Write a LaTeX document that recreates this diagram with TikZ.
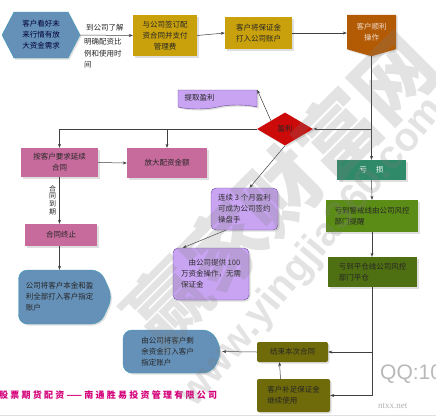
\documentclass[tikz,border=0pt]{standalone}
\usepackage{fontspec}
\setmainfont{Noto Sans CJK SC}
\newfontfamily\latinsans{Liberation Sans}
\newfontfamily\latinserif{Liberation Serif}
\usetikzlibrary{shapes.geometric,shapes.symbols,shadows,arrows.meta,calc}
\definecolor{hexblue}{HTML}{6590B8}
\definecolor{hexedge}{HTML}{3A9CB8}
\definecolor{gold}{HTML}{C9A10C}
\definecolor{brownc}{HTML}{B35A05}
\definecolor{redc}{HTML}{CC0A0A}
\definecolor{lav}{HTML}{C9A4F2}
\definecolor{lavedge}{HTML}{6A4A9A}
\definecolor{pinkc}{HTML}{C66B9C}
\definecolor{tealc}{HTML}{2F8A6A}
\definecolor{greena}{HTML}{5B8C16}
\definecolor{greenb}{HTML}{4F7012}
\definecolor{olivec}{HTML}{6F6A0A}
\definecolor{magc}{HTML}{D4007A}
\begin{document}
\begin{tikzpicture}[x=1pt,y=-1pt,
  box/.style={inner sep=1pt, font=\fontsize{7.5}{11}\selectfont, text=black!85,
    drop shadow={opacity=0.25,shadow xshift=1.5pt,shadow yshift=-1.5pt}},
  arr/.style={-{Stealth[length=4pt,width=3pt]}, draw=black!75, line width=0.5pt},
  lbl/.style={inner sep=0pt, font=\fontsize{7.5}{11.5}\selectfont, text=black!85}]
\useasboundingbox (0,0) rectangle (436,418);
\clip (0,0) rectangle (436,418);
\fill[white] (0,0) rectangle (436,418);

% nodes
\node[box, signal, signal to=west and east, signal pointer angle=125, fill=hexblue, draw=hexedge,
  text=black!80!blue, minimum width=78pt, minimum height=46pt, align=center] (hex) at (41,35) {客户看好未\\来行情有放\\大资金需求};
\node[box, fill=gold, minimum width=64pt, minimum height=41pt, align=center] (sign) at (165,35.5) {与公司签订配\\资合同并支付\\管理费};
\node[box, fill=gold, minimum width=67pt, minimum height=32pt, align=center] (pay) at (258.5,33) {客户将保证金\\打入公司账户};
\node[box, signal, signal to=south, signal pointer angle=148, fill=brownc, text=white!80!brownc,
  minimum width=49pt, minimum height=39pt, align=center] (ok) at (371.5,32) {客户顺利\\操作};
\node[box, diamond, aspect=1.7, fill=redc, minimum width=56pt, minimum height=33pt, inner sep=0pt] (win) at (285,129) {盈利};
\node[box, tape, tape bend top=none, tape bend height=4pt, fill=lav, draw=lavedge,
  minimum width=79pt, minimum height=19pt, text width=66pt, align=left] (take) at (217.5,97.5) {提取盈利};
\node[box, fill=pinkc, minimum width=77pt, minimum height=29pt, align=center] (cont) at (59.5,162.5) {按客户要求延续\\合同};
\node[box, fill=pinkc, minimum width=80pt, minimum height=30pt] (enl) at (167,163) {放大配资金额};
\node[box, fill=pinkc, minimum width=72pt, minimum height=22pt] (stop) at (61,235) {合同终止};
\node[box, signal, signal to=east, signal pointer angle=132, rounded corners=9pt, fill=hexblue, draw=hexedge,
  minimum width=94pt, minimum height=54pt, align=left] (ret1) at (59.5,297) {公司将客户本金和盈\\利全部打入客户指定\\账户};
\node[box, rounded corners=5pt, fill=lav, draw=lavedge, minimum width=67pt, minimum height=42pt, align=left] (trader) at (244.5,209) {连续 3 个月盈利\\可成为公司签约\\操盘手};
\node[box, rounded corners=5pt, fill=lav, draw=lavedge, minimum width=76pt, minimum height=52pt, align=left] (fund) at (211,274) {\quad 由公司提供 100\\万资金操作，无需\\保证金};
\node[box, fill=tealc, text=white, minimum width=69pt, minimum height=20pt] (loss) at (371.5,170) {亏\quad\ 损};
\node[box, fill=greena, minimum width=92pt, minimum height=32pt, align=left] (warn) at (372,216) {亏到警戒线由公司风控\\部门提醒};
\node[box, fill=greenb, minimum width=89pt, minimum height=30pt, align=left] (liq) at (372.5,272) {亏到平仓线公司风控\\部门平仓};
\node[box, fill=olivec, rounded corners=2pt, minimum width=71pt, minimum height=20pt] (fin) at (292.5,352) {结束本次合同};
\node[box, fill=olivec, rounded corners=2pt, minimum width=73pt, minimum height=33pt, align=left] (add) at (293.5,395.5) {客户补足保证金\\继续使用};
\node[box, signal, signal to=east, signal pointer angle=130, rounded corners=9pt, fill=hexblue, draw=hexedge,
  minimum width=99pt, minimum height=43pt, align=left] (ret2) at (167.5,351.5) {由公司将客户剩\\余资金打入客户\\指定账户};

% connectors
\draw[arr] (hex.east) -- (sign.west);
\node[lbl, anchor=south west] (l1) at (86,31) {到公司了解};
\node[lbl, anchor=north west, align=left] (l2) at (84,38) {明确配资比\\例和使用时\\间};
\draw[arr] (sign.east) -- (pay.west);
\draw[arr] (pay.east) -- (pay.east -| ok.west);
\draw[arr] (ok.south) -- (loss.north);
\coordinate (br1) at (ok.south |- win.east);
\draw[arr] (br1) -- (win.east);
\draw[arr] (win.north west) -- (take.north east);
\coordinate (br2) at (enl.north |- win.west);
\draw[arr] (win.west) -| (cont.north);
\draw[arr] (br2) -- (enl.north);
\draw[arr] (cont.east) -- (enl.west);
\draw[arr] (cont.south) -- (cont.south |- stop.north);
\node[lbl, font=\fontsize{7}{7.6}\selectfont, align=center, inner sep=0.5pt] (due) at (52.5,200) {合\\同\\到\\期};
\draw[arr] (cont.south |- stop.south) -- (ret1.north);
\draw[arr] (win.south) -- ($(trader.north)+(5,0)$);
\draw[arr] ($(trader.south west)+(15,0)$) -- ($(fund.north west)+(10,0)$);
\draw[arr] (loss.south) -- (warn.north);
\draw[arr] (warn.south) -- (warn.south |- liq.north);
\draw[arr] (liq.south) |- (add.east);
\coordinate (br3) at (liq.south |- fin.east);
\draw[arr] (br3) -- (fin.east);
\draw[arr] ($(add.north)+(-13,0)$) -- ($(fin.south)+(-13,0)$);
\draw[arr] (fin.west) -- (ret2.east);

% footer texts
\node[anchor=west, inner sep=0pt, text=magc, font=\bfseries\fontsize{9}{10}\selectfont\addfontfeature{LetterSpace=25}] (foot) at (-1,395) {股票期货配资——南通胜易投资管理有限公司};
\node[anchor=west, inner sep=0pt, text=gray!55, font=\latinsans\fontsize{21}{21}\selectfont] (qq) at (380,374) {QQ:10};
\node[anchor=west, inner sep=0pt, text=gray!60, font=\latinserif\fontsize{9}{9}\selectfont] (site) at (378,406) {ntxx.net};
\draw[gray!25] (0,415) -- (436,415);

% watermark
\node[text=gray, opacity=0.22, font=\bfseries\fontsize{80}{80}\selectfont, rotate=45] (wm1) at (280,190) {赢家财富网};
\node[anchor=west, text=gray, opacity=0.22, font=\latinsans\bfseries\fontsize{40}{40}\selectfont, rotate=50] (wm2) at (185,405) {www.yingjia360.com};
\end{tikzpicture}
\end{document}
